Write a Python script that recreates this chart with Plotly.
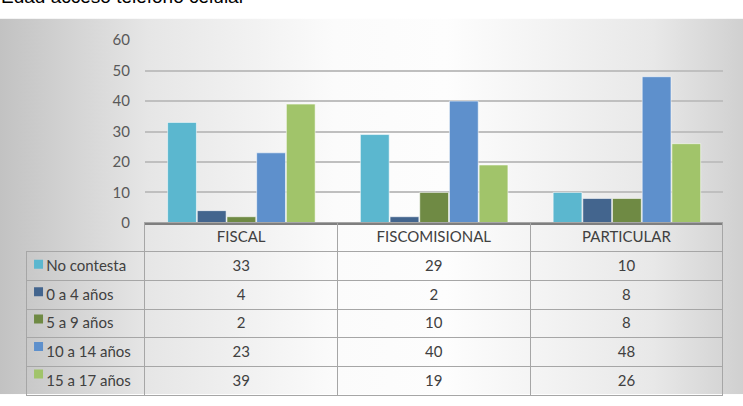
import base64
import plotly.graph_objects as go

# ---- data ----
categories = ["FISCAL", "FISCOMISIONAL", "PARTICULAR"]
series_names = ["No contesta", "0 a 4 años", "5 a 9 años", "10 a 14 años", "15 a 17 años"]
no_contesta = [33, 29, 10]
edad_0_4 = [4, 2, 8]
edad_5_9 = [2, 10, 8]
edad_10_14 = [23, 40, 48]
edad_15_17 = [39, 19, 26]
y_ticks = [0, 10, 20, 30, 40, 50, 60]
title_text = "Edad acceso teléfono celular"

series_values = [no_contesta, edad_0_4, edad_5_9, edad_10_14, edad_15_17]
colors = ["#5BB7CF", "#43658E", "#6F8A44", "#5E90CC", "#A1C46A"]

W, H = 743, 406
FONT = "Lato"
NB = "\u00a0"

# pixel layout
PLOT_L, PLOT_R = 145, 723.3
PLOT_T, PLOT_B = 31.6, 222.7
TAB_L = 26.7
HEADER_H, ROW_H = 29, 28.7
BODY_T = PLOT_B + HEADER_H
BODY_B = BODY_T + ROW_H * len(series_names)

fig = go.Figure()
for name, vals, col in zip(series_names, series_values, colors):
    fig.add_trace(go.Bar(
        x=categories, y=vals, name=name,
        marker=dict(color=col, line=dict(color="rgba(255,255,255,0.55)", width=1)),
        showlegend=False, xaxis="x", yaxis="y",
    ))

# table (doubles as legend); non-breaking spaces keep the table from re-wrapping rows
legend_cells = [NB * 3 + n.replace(" ", NB) for n in series_names]
cols = [legend_cells] + [[str(v[i]) for v in series_values] for i in range(len(categories))]
line_col = "#a6a6a6"
fig.add_trace(go.Table(
    domain=dict(x=[TAB_L / W, PLOT_R / W], y=[0, (H - PLOT_B) / H]),
    columnwidth=[PLOT_L - TAB_L] + [(PLOT_R - PLOT_L) / 3] * 3,
    header=dict(
        values=[""] + categories,
        fill=dict(color="rgba(0,0,0,0)"),
        line=dict(color=["rgba(0,0,0,0)", line_col, line_col, line_col], width=1),
        align="center",
        font=dict(family=FONT, size=15, color="#404040"),
        height=HEADER_H,
    ),
    cells=dict(
        values=cols,
        fill=dict(color="rgba(0,0,0,0)"),
        line=dict(color=line_col, width=1),
        align=["left", "center", "center", "center"],
        font=dict(family=FONT, size=15, color="#404040"),
        height=ROW_H,
    ),
))

# legend keys: square markers on an overlay axis spanning the table body rows
fig.add_trace(go.Scatter(
    x=[0.1] * len(series_names),
    y=[i + 0.5 for i in range(len(series_names))],
    mode="markers",
    marker=dict(symbol="square", size=9, color=colors, line=dict(width=0)),
    xaxis="x2", yaxis="y2", showlegend=False, hoverinfo="skip",
))

svg = (
    '<svg xmlns="http://www.w3.org/2000/svg" width="743" height="393" viewBox="0 0 743 393" '
    'preserveAspectRatio="none"><defs>'
    '<linearGradient id="g" x1="0" y1="0" x2="1" y2="0">'
    '<stop offset="0" stop-color="#c2c2c2"/>'
    '<stop offset="0.2" stop-color="#e6e6e6"/>'
    '<stop offset="0.45" stop-color="#fbfbfb"/>'
    '<stop offset="0.6" stop-color="#fdfdfd"/>'
    '<stop offset="0.88" stop-color="#e8e8e8"/>'
    '<stop offset="1" stop-color="#d0d0d0"/>'
    '</linearGradient></defs>'
    '<rect width="743" height="393" fill="url(#g)"/></svg>'
)
svg_uri = "data:image/svg+xml;base64," + base64.b64encode(svg.encode()).decode()

fig.update_layout(
    width=W, height=H,
    margin=dict(l=0, r=0, t=0, b=0),
    paper_bgcolor="white",
    plot_bgcolor="rgba(0,0,0,0)",
    barmode="group",
    bargap=0.23,
    bargroupgap=0.03,
    images=[dict(source=svg_uri, xref="paper", yref="paper", x=0, y=1 - 9 / H,
                 sizex=1, sizey=393 / H, sizing="stretch", xanchor="left", yanchor="top",
                 layer="below")],
    xaxis=dict(domain=[PLOT_L / W, PLOT_R / W], showticklabels=False, showgrid=False,
               showline=True, linecolor="#7f7f7f", linewidth=2, ticks="", fixedrange=True),
    yaxis=dict(domain=[(H - PLOT_B) / H, (H - PLOT_T) / H], range=[0, 60], tickvals=y_ticks,
               showgrid=True, gridcolor="#bfbfbf", gridwidth=1.5, zeroline=False,
               showline=False, ticks="", ticklabelstandoff=14,
               tickfont=dict(family=FONT, size=15, color="#595959")),
    xaxis2=dict(domain=[TAB_L / W, PLOT_L / W], range=[0, 1], visible=False, fixedrange=True),
    yaxis2=dict(domain=[(H - BODY_B) / H, (H - BODY_T) / H], range=[len(series_names), 0],
                visible=False, fixedrange=True),
    annotations=[dict(text=title_text, xref="paper", yref="paper", x=-1 / W, y=1 + 1 / H,
                      xanchor="left", yanchor="bottom", showarrow=False,
                      font=dict(family="Liberation Sans", size=19, color="black"))],
)

fig.write_html("out.html")
